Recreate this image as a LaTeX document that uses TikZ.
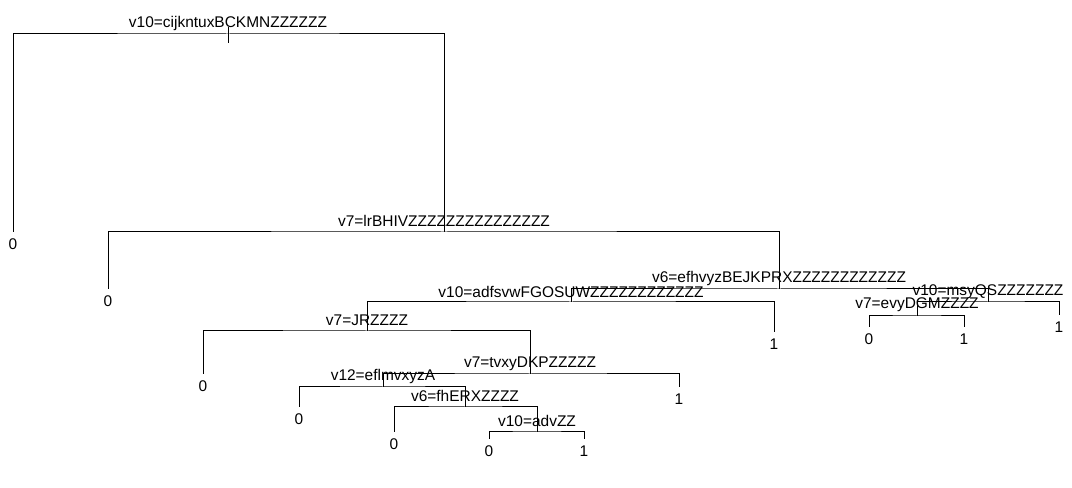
\documentclass[tikz,border=0pt]{standalone}
\usepackage{fontspec}
\setmainfont{Liberation Sans}
\usetikzlibrary{positioning}

\begin{document}
\begin{tikzpicture}[x=0.75pt,y=-0.75pt,line width=0.75pt,
  splitlab/.style={anchor=base,inner sep=0pt,font=\fontsize{11.6}{13}\selectfont},
  leaflab/.style={inner sep=0pt,font=\fontsize{11.6}{13}\selectfont}]
\useasboundingbox (0,0) rectangle (1072,488);
\coordinate (n1) at (228,34);
\coordinate (n2) at (444,232);
\coordinate (n3) at (779,289);
\coordinate (n4) at (571,302);
\coordinate (n5) at (988,302);
\coordinate (n6) at (917,316);
\coordinate (n7) at (367,331);
\coordinate (n8) at (530,374);
\coordinate (n9) at (383,387);
\coordinate (n10) at (465,407);
\coordinate (n11) at (537,432);
\coordinate (l1) at (13,232);
\coordinate (l2) at (108,289);
\coordinate (l3) at (774,332);
\coordinate (l4) at (869,327);
\coordinate (l5) at (964,327);
\coordinate (l6) at (1059,315);
\coordinate (l7) at (203,374);
\coordinate (l8) at (679,387);
\coordinate (l9) at (299,407);
\coordinate (l10) at (394,432);
\coordinate (l11) at (489,439);
\coordinate (l12) at (584,439);
\draw (l1) |- (n1) -| (n2);
\draw (l2) |- (n2) -| (n3);
\draw (n4) |- (n3) -| (n5);
\draw (n7) |- (n4) -| (l3);
\draw (n6) |- (n5) -| (l6);
\draw (l4) |- (n6) -| (l5);
\draw (l7) |- (n7) -| (n8);
\draw (n9) |- (n8) -| (l8);
\draw (l9) |- (n9) -| (n10);
\draw (l10) |- (n10) -| (n11);
\draw (l11) |- (n11) -| (l12);
\draw (n1) ++(0,-7) -- ++(0,16);
\node[splitlab] (s1) at (228,28) {v10=cijkntuxBCKMNZZZZZZ};
\node[splitlab] (s2) at (444,227) {v7=lrBHIVZZZZZZZZZZZZZZZ};
\node[splitlab] (s3) at (779,283) {v6=efhvyzBEJKPRXZZZZZZZZZZZZ};
\node[splitlab] (s4) at (571,298) {v10=adfsvwFGOSUWZZZZZZZZZZZZ};
\node[splitlab] (s5) at (988,296) {v10=msyQSZZZZZZZ};
\node[splitlab] (s6) at (917,309) {v7=evyDGMZZZZ};
\node[splitlab] (s7) at (367,326) {v7=JRZZZZ};
\node[splitlab] (s8) at (530,368) {v7=tvxyDKPZZZZZ};
\node[splitlab] (s9) at (383,381) {v12=eflmvxyzA};
\node[splitlab] (s10) at (465,402) {v6=fhERXZZZZ};
\node[splitlab] (s11) at (537,427) {v10=advZZ};
\node[leaflab,below=4.9pt of l1] (t1) {0};
\node[leaflab,below=4.9pt of l2] (t2) {0};
\node[leaflab,below=4.9pt of l3] (t3) {1};
\node[leaflab,below=4.9pt of l4] (t4) {0};
\node[leaflab,below=4.9pt of l5] (t5) {1};
\node[leaflab,below=4.9pt of l6] (t6) {1};
\node[leaflab,below=4.9pt of l7] (t7) {0};
\node[leaflab,below=4.9pt of l8] (t8) {1};
\node[leaflab,below=4.9pt of l9] (t9) {0};
\node[leaflab,below=4.9pt of l10] (t10) {0};
\node[leaflab,below=4.9pt of l11] (t11) {0};
\node[leaflab,below=4.9pt of l12] (t12) {1};
\end{tikzpicture}
\end{document}
